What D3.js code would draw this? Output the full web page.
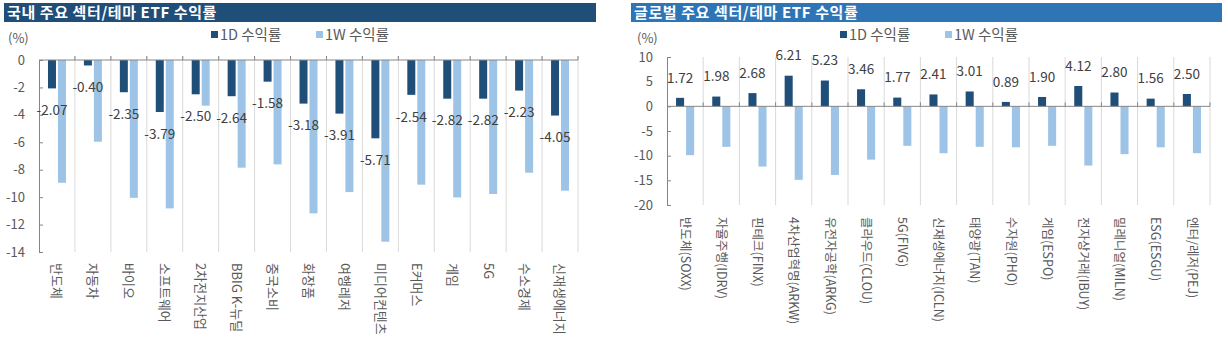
<!DOCTYPE html>
<html>
<head>
<meta charset="utf-8">
<script src="https://cdn.jsdelivr.net/npm/d3@7"></script>
<style>
  body { margin: 0; background: #fff; }
  svg { font-family: "Noto Sans CJK KR", "Noto Sans", sans-serif; }
</style>
</head>
<body>
<svg id="chart" width="1228" height="345"></svg>
<script>
// 국내 주요 섹터/테마 ETF
const krCategories = ["반도체", "자동차", "바이오", "소프트웨어", "2차전지산업", "BBIG K-뉴딜", "중국소비",
  "화장품", "여행레저", "미디어컨텐츠", "E커머스", "게임", "5G", "수소경제", "신재생에너지"];
const kr1D = [-2.07, -0.40, -2.35, -3.79, -2.50, -2.64, -1.58, -3.18, -3.91, -5.71, -2.54, -2.82, -2.82, -2.23, -4.05];
const kr1W = [-8.95, -5.96, -10.05, -10.82, -3.33, -7.85, -7.61, -11.18, -9.63, -13.25, -9.09, -10.02, -9.77, -8.22, -9.53];
const krTicks = [0, -2, -4, -6, -8, -10, -12, -14];

// 글로벌 주요 섹터/테마 ETF
const glCategories = ["반도체(SOXX)", "자율주행(IDRV)", "핀테크(FINX)", "4차산업혁명(ARKW)", "유전자공학(ARKG)",
  "클라우드(CLOU)", "5G(FIVG)", "신재생에너지(ICLN)", "태양광(TAN)", "수자원(PHO)", "게임(ESPO)",
  "전자상거래(IBUY)", "밀레니얼(MILN)", "ESG(ESGU)", "엔터/레저(PEJ)"];
const gl1D = [1.72, 1.98, 2.68, 6.21, 5.23, 3.46, 1.77, 2.41, 3.01, 0.89, 1.90, 4.12, 2.80, 1.56, 2.50];
const gl1W = [-9.9, -8.2, -12.2, -14.9, -13.9, -10.8, -8.0, -9.5, -8.2, -8.3, -8.0, -12.0, -9.7, -8.3, -9.5];
const glTicks = [10, 5, 0, -5, -10, -15, -20];

const seriesNames = ["1D 수익률", "1W 수익률"];
const seriesColors = ["#1f4e79", "#9dc3e6"];

const svg = d3.select("#chart");

function drawPanel(opt) {
  const g = svg.append("g");

  // title bar
  g.append("rect")
    .attr("x", opt.titleX).attr("y", 3)
    .attr("width", opt.titleW).attr("height", 19)
    .attr("fill", opt.titleColor);
  g.append("text")
    .attr("x", opt.titleX + 3).attr("y", 17.5)
    .attr("fill", "#fff")
    .attr("font-size", 15)
    .attr("letter-spacing", 0.6)
    .attr("font-weight", "bold")
    .text(opt.title);

  // unit
  g.append("text")
    .attr("x", opt.unitX).attr("y", 43)
    .attr("fill", "#595959").attr("font-size", 13)
    .text("(%)");

  // legend
  seriesNames.forEach((name, i) => {
    const lx = opt.legendX[i];
    g.append("rect")
      .attr("x", lx).attr("y", 31)
      .attr("width", 7).attr("height", 7)
      .attr("fill", seriesColors[i]);
    g.append("text")
      .attr("x", lx + 9).attr("y", 40)
      .attr("fill", "#595959").attr("font-size", 14.5)
      .text(name);
  });

  const x = d3.scaleBand()
    .domain(opt.categories)
    .range([opt.left, opt.right])
    .padding(0);

  const bw = x.bandwidth();
  const xs = d3.scaleBand()
    .domain([0, 1])
    .range([bw * 0.25, bw * 0.75])
    .paddingInner(0.2);

  const y = d3.scaleLinear()
    .domain(opt.domain)
    .range([opt.bottom, opt.top]);

  // vertical gridlines at category boundaries
  const bounds = opt.categories.map(c => x(c)).concat([opt.right]).slice(1);
  g.selectAll(".grid")
    .data(bounds)
    .enter().append("line")
    .attr("x1", d => d).attr("x2", d => d)
    .attr("y1", Math.min(opt.top, y(0) - 4)).attr("y2", opt.bottom)
    .attr("stroke", "#d9d9d9").attr("stroke-width", 1);

  // bars
  [opt.s1, opt.s2].forEach((vals, si) => {
    g.selectAll(".bar" + si)
      .data(vals)
      .enter().append("rect")
      .attr("x", (d, i) => x(opt.categories[i]) + xs(si))
      .attr("y", d => y(Math.max(0, d)))
      .attr("width", xs.bandwidth())
      .attr("height", d => Math.abs(y(d) - y(0)))
      .attr("fill", seriesColors[si]);
  });

  // y axis
  const yAxis = d3.axisRight(y)
    .tickValues(opt.ticks)
    .tickSize(4)
    .tickFormat("");
  const ya = g.append("g")
    .attr("transform", `translate(${opt.left},0)`)
    .call(yAxis);
  ya.select(".domain").attr("stroke", "#868686");
  ya.selectAll(".tick line").attr("stroke", "#868686");
  g.selectAll(".ylab")
    .data(opt.ticks)
    .enter().append("text")
    .attr("x", opt.left - 14)
    .attr("y", d => y(d))
    .attr("dy", "0.35em")
    .attr("text-anchor", "end")
    .attr("fill", "#595959").attr("font-size", 13)
    .text(d => d);

  // zero line with category ticks
  g.append("line")
    .attr("x1", opt.left).attr("x2", opt.right)
    .attr("y1", y(0)).attr("y2", y(0))
    .attr("stroke", "#868686");
  g.selectAll(".ztick")
    .data(bounds)
    .enter().append("line")
    .attr("x1", d => d).attr("x2", d => d)
    .attr("y1", y(0) - 4).attr("y2", y(0))
    .attr("stroke", "#868686");

  // value labels for 1D
  g.selectAll(".vlab")
    .data(opt.s1)
    .enter().append("text")
    .attr("x", (d, i) => x(opt.categories[i]) + xs(0) + xs.bandwidth() / 2)
    .attr("y", d => y(d) + (d < 0 ? 22 : -20))
    .attr("dy", "0.35em")
    .attr("text-anchor", "middle")
    .attr("fill", "#404040").attr("font-size", 13.5)
    .text(d => d.toFixed(2));

  // category labels, rotated
  g.selectAll(".clab")
    .data(opt.categories)
    .enter().append("text")
    .attr("transform", d => `translate(${x(d) + bw / 2},${opt.labelTop}) rotate(90)`)
    .attr("dy", "0.35em")
    .attr("fill", "#595959").attr("font-size", opt.labelSize)
    .text(d => d);
}

drawPanel({
  title: "국내 주요 섹터/테마 ETF 수익률",
  titleX: 4, titleW: 592, titleColor: "#1f4e79",
  unitX: 8, legendX: [211, 316],
  categories: krCategories, s1: kr1D, s2: kr1W,
  domain: [-14, 0], ticks: krTicks,
  left: 39, right: 578, top: 60, bottom: 252,
  labelTop: 263, labelSize: 13
});

drawPanel({
  title: "글로벌 주요 섹터/테마 ETF 수익률",
  titleX: 631, titleW: 591, titleColor: "#2e75b6",
  unitX: 637, legendX: [840, 945],
  categories: glCategories, s1: gl1D, s2: gl1W,
  domain: [-20, 10], ticks: glTicks,
  left: 667, right: 1210, top: 57, bottom: 205,
  labelTop: 217, labelSize: 12.5
});
</script>
</body>
</html>
